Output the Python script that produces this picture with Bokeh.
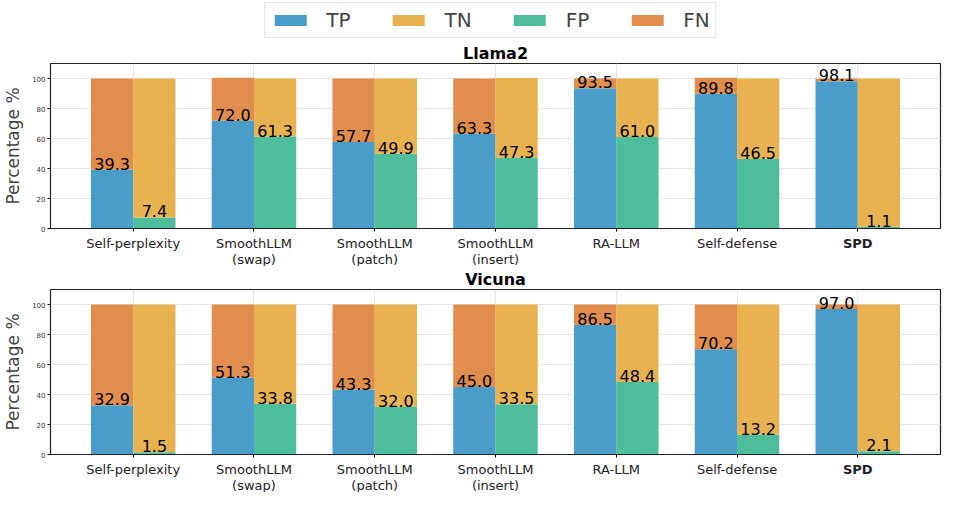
from bokeh.plotting import figure
from bokeh.layouts import column
from bokeh.models import (Range1d, FixedTicker, Legend, LegendItem, ColumnDataSource)
from bokeh.core.properties import value
from bokeh.embed import file_html
from bokeh.resources import INLINE

methods = ["Self-perplexity", "SmoothLLM\n(swap)", "SmoothLLM\n(patch)", "SmoothLLM\n(insert)",
           "RA-LLM", "Self-defense", "SPD"]
method_style = ["normal", "normal", "normal", "normal", "normal", "normal", "bold"]

llama_tp = [39.3, 72.0, 57.7, 63.3, 93.5, 89.8, 98.1]
llama_fn = [60.7, 28.5, 42.3, 36.7, 6.5, 10.7, 1.9]
llama_fp = [7.4, 61.3, 49.9, 47.3, 61.0, 46.5, 1.1]
llama_tn = [92.6, 38.7, 50.1, 53.1, 39.0, 53.5, 98.9]

vicuna_tp = [32.9, 51.3, 43.3, 45.0, 86.5, 70.2, 97.0]
vicuna_fn = [67.1, 48.7, 56.7, 55.0, 13.5, 29.8, 3.0]
vicuna_fp = [1.5, 33.8, 32.0, 33.5, 48.4, 13.2, 2.1]
vicuna_tn = [98.5, 66.2, 68.0, 66.5, 51.6, 86.8, 97.9]

C_TP = "#4b9dc9"
C_TN = "#e8b251"
C_FP = "#4ebd9c"
C_FN = "#e08d4d"

FONT = "DejaVu Sans"
W = 0.35
FW = 890
LEFT = 40
RIGHT = 6


def make_panel(title, tp, fn, fp, tn):
    p = figure(frame_width=FW, frame_height=165, toolbar_location=None, output_backend="svg",
               x_range=Range1d(-0.685, 6.685), y_range=Range1d(0, 110),
               min_border_left=LEFT, min_border_right=RIGHT, min_border_top=0, min_border_bottom=7)
    p.title.text = title
    p.title.align = "center"
    p.title.text_font = FONT
    p.title.text_font_size = "16px"
    p.title.text_font_style = "bold"
    p.title.text_color = "black"
    p.title.standoff = 2

    idx = list(range(len(tp)))
    xl = [i - W / 2 for i in idx]
    xr = [i + W / 2 for i in idx]
    fn_top = [a + b for a, b in zip(tp, fn)]
    tn_top = [a + b for a, b in zip(fp, tn)]

    p.vbar(x=xl, bottom=0, top=tp, width=W, fill_color=C_TP, line_color=None)
    p.vbar(x=xl, bottom=tp, top=fn_top, width=W, fill_color=C_FN, line_color=None)
    p.vbar(x=xr, bottom=0, top=fp, width=W, fill_color=C_FP, line_color=None)
    p.vbar(x=xr, bottom=fp, top=tn_top, width=W, fill_color=C_TN, line_color=None)

    src = ColumnDataSource(dict(x=xl + xr, y=tp + fp,
                                t=["%.1f" % v for v in tp] + ["%.1f" % v for v in fp]))
    p.text(x="x", y="y", text="t", source=src, text_align="center", text_baseline="bottom",
           text_font=value(FONT), text_font_size="16px", text_color="black")

    ticks = FixedTicker(ticks=idx)
    p.xaxis.ticker = ticks
    p.xaxis.major_label_overrides = {i: "" for i in idx}
    p.xaxis.major_label_text_font_size = "1px"
    p.xaxis.major_label_standoff = 0
    p.xaxis.major_tick_out = 3
    p.xaxis.major_tick_in = 0
    p.xaxis.minor_tick_line_color = None

    p.yaxis.ticker = FixedTicker(ticks=[0, 20, 40, 60, 80, 100])
    p.yaxis.major_label_text_font = FONT
    p.yaxis.major_label_text_font_size = "7px"
    p.yaxis.major_label_text_color = "#333333"
    p.yaxis.major_label_standoff = 2
    p.yaxis.major_tick_out = 3
    p.yaxis.major_tick_in = 0
    p.yaxis.minor_tick_line_color = None
    p.yaxis.axis_label = "Percentage %"
    p.yaxis.axis_label_text_font = FONT
    p.yaxis.axis_label_text_font_size = "17px"
    p.yaxis.axis_label_text_font_style = "normal"
    p.yaxis.axis_label_standoff = 6

    p.xgrid.ticker = ticks
    p.grid.grid_line_color = "#e6e6e6"
    p.grid.grid_line_width = 1
    p.outline_line_color = "#222222"
    p.outline_line_width = 1.2
    p.axis.axis_line_color = "#222222"

    lab = figure(frame_width=FW, frame_height=31, toolbar_location=None, output_backend="svg",
                 x_range=p.x_range, y_range=Range1d(0, 1),
                 x_axis_location=None, y_axis_location=None,
                 min_border_left=LEFT, min_border_right=RIGHT, min_border_top=0, min_border_bottom=0)
    lab.grid.visible = False
    lab.outline_line_color = None
    lsrc = ColumnDataSource(dict(x=idx, y=[1] * len(idx), t=methods, s=method_style))
    lab.text(x="x", y="y", text="t", source=lsrc, text_align="center", text_baseline="top",
             text_font=value(FONT), text_font_size="13px", text_font_style="s",
             text_color="#222222", text_line_height=1.1)
    return p, lab


leg = figure(width=FW + LEFT + RIGHT, height=40, x_range=Range1d(0, 1), y_range=Range1d(0, 1),
             toolbar_location=None, output_backend="svg", min_border=0)
leg.axis.visible = False
leg.grid.visible = False
leg.outline_line_color = None
items = []
for name, col in [("TP", C_TP), ("TN", C_TN), ("FP", C_FP), ("FN", C_FN)]:
    r = leg.vbar(x=[0.5], bottom=[0.5], top=[0.5], width=0.001, fill_color=col, line_color=None)
    items.append(LegendItem(label=name, renderers=[r]))
legend = Legend(items=items, orientation="horizontal", location="center",
                glyph_width=40, glyph_height=14, label_standoff=16, spacing=38,
                label_text_font=FONT, label_text_font_size="20px",
                border_line_color="#cccccc", border_line_width=1, padding=5, margin=0)
leg.add_layout(legend, "center")

p1, l1 = make_panel("Llama2", llama_tp, llama_fn, llama_fp, llama_tn)
p2, l2 = make_panel("Vicuna", vicuna_tp, vicuna_fn, vicuna_fp, vicuna_tn)

layout = column(leg, p1, l1, p2, l2, spacing=0)
open("out.html", "w").write(file_html(layout, INLINE))
